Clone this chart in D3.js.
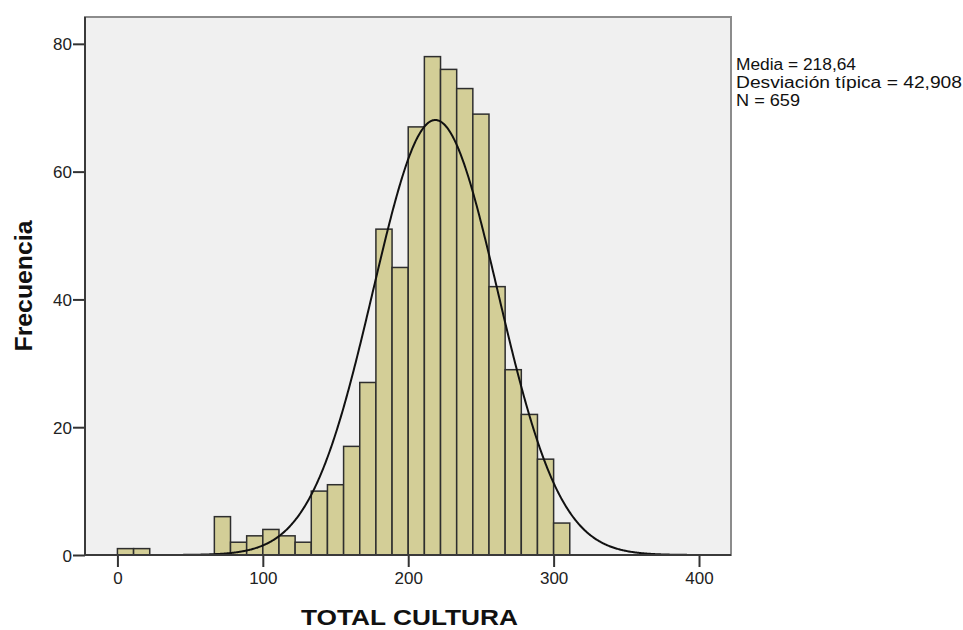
<!DOCTYPE html>
<html>
<head>
<meta charset="utf-8">
<script src="https://cdn.jsdelivr.net/npm/d3@7"></script>
<style>
  html, body { margin: 0; padding: 0; background: #ffffff; }
  svg { display: block; font-family: "Liberation Sans", Arial, sans-serif; }
</style>
</head>
<body>
<svg id="chart" width="963" height="630"></svg>
<script>
// Histogram of TOTAL CULTURA with fitted normal curve
const binWidth = 100 / 9;
const binCounts = [1, 1, 0, 0, 0, 0, 6, 2, 3, 4, 3, 2, 10, 11, 17, 27, 51, 45,
                   67, 78, 76, 73, 69, 42, 29, 22, 15, 5];
const xTicks = [0, 100, 200, 300, 400];
const yTicks = [0, 20, 40, 60, 80];
const mean = 218.64;
const sd = 42.908;
const n = 659;
const statsLines = ["Media = 218,64", "Desviación típica = 42,908", "N = 659"];
const xTitle = "TOTAL CULTURA";
const yTitle = "Frecuencia";

const plot = { left: 85, right: 731, top: 17, bottom: 555 };

const x = d3.scaleLinear().domain([-22.3, 422]).range([plot.left, plot.right]);
const y = d3.scaleLinear().domain([0, 84.2]).range([plot.bottom, plot.top]);

const svg = d3.select("#chart");

// plot background and frame
svg.append("rect")
  .attr("x", plot.left).attr("y", plot.top)
  .attr("width", plot.right - plot.left).attr("height", plot.bottom - plot.top)
  .attr("fill", "#f0f0f0")
  .attr("stroke", "#8c8c8c").attr("stroke-width", 2);

svg.append("defs").append("clipPath").attr("id", "plotclip")
  .append("rect")
  .attr("x", plot.left).attr("y", plot.top)
  .attr("width", plot.right - plot.left).attr("height", plot.bottom - plot.top);

// bars
const bins = binCounts.map((c, i) => ({ x0: i * binWidth, x1: (i + 1) * binWidth, count: c }))
  .filter(d => d.count > 0);

svg.append("g").selectAll("rect")
  .data(bins)
  .join("rect")
  .attr("x", d => x(d.x0))
  .attr("y", d => y(d.count))
  .attr("width", d => x(d.x1) - x(d.x0))
  .attr("height", d => y(0) - y(d.count))
  .attr("fill", "#d3ce97")
  .attr("stroke", "#2e2e2e")
  .attr("stroke-width", 1.5);

// normal curve scaled to the histogram counts
const pdf = v => Math.exp(-0.5 * ((v - mean) / sd) ** 2) / (sd * Math.sqrt(2 * Math.PI));
const curvePts = d3.range(-22, 422.5, 0.5).map(v => [v, n * binWidth * pdf(v)]);
svg.append("path")
  .datum(curvePts)
  .attr("clip-path", "url(#plotclip)")
  .attr("fill", "none")
  .attr("stroke", "#111")
  .attr("stroke-width", 2)
  .attr("d", d3.line().x(d => x(d[0])).y(d => y(d[1])));

// axes
const xAxis = svg.append("g")
  .attr("transform", `translate(0,${plot.bottom})`)
  .call(d3.axisBottom(x).tickValues(xTicks).tickSize(12).tickPadding(5).tickFormat(d3.format("d")));
const yAxis = svg.append("g")
  .attr("transform", `translate(${plot.left},0)`)
  .call(d3.axisLeft(y).tickValues(yTicks).tickSize(12).tickPadding(1).tickFormat(d3.format("d")));

[xAxis, yAxis].forEach(g => {
  g.select(".domain").remove();
  g.selectAll(".tick line").attr("stroke", "#333").attr("stroke-width", 2);
  g.selectAll(".tick text")
    .attr("fill", "#222")
    .style("font-size", "17px")
    .style("font-family", "'Liberation Sans', Arial, sans-serif");
});
yAxis.selectAll(".tick text").attr("dy", "0.36em");

// left and bottom axis lines
svg.append("line")
  .attr("x1", plot.left).attr("x2", plot.left)
  .attr("y1", plot.top).attr("y2", plot.bottom)
  .attr("stroke", "#3a3a3a").attr("stroke-width", 2);
svg.append("line")
  .attr("x1", plot.left - 1).attr("x2", plot.right)
  .attr("y1", plot.bottom).attr("y2", plot.bottom)
  .attr("stroke", "#3a3a3a").attr("stroke-width", 2);

// axis titles
svg.append("text")
  .attr("x", 409.5).attr("y", 625)
  .attr("text-anchor", "middle")
  .attr("font-weight", "bold")
  .attr("font-size", 22)
  .attr("fill", "#111")
  .attr("textLength", 217).attr("lengthAdjust", "spacingAndGlyphs")
  .text(xTitle);

svg.append("text")
  .attr("transform", "translate(32,286) rotate(-90)")
  .attr("text-anchor", "middle")
  .attr("font-weight", "bold")
  .attr("font-size", 23)
  .attr("fill", "#111")
  .attr("textLength", 131).attr("lengthAdjust", "spacingAndGlyphs")
  .text(yTitle);

// summary statistics
const statsWidths = [120, 226, 64];
svg.append("g").selectAll("text")
  .data(statsLines)
  .join("text")
  .attr("x", 736)
  .attr("y", (d, i) => 70 + i * 18)
  .attr("font-size", 16)
  .attr("fill", "#111")
  .attr("textLength", (d, i) => statsWidths[i])
  .attr("lengthAdjust", "spacingAndGlyphs")
  .text(d => d);
</script>
</body>
</html>
